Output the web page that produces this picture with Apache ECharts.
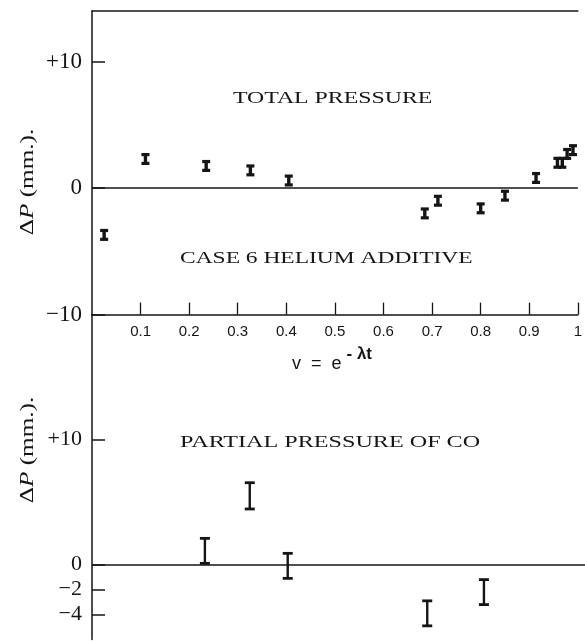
<!DOCTYPE html>
<html>
<head>
<meta charset="utf-8">
<script src="https://cdn.jsdelivr.net/npm/echarts@6/dist/echarts.min.js"></script>
<style>
html,body{margin:0;padding:0;background:#fff;}
#c{width:585px;height:641px;}
</style>
</head>
<body>
<div id="c"></div>
<script>
// Top panel: total pressure (case 6, helium additive)
var totalX   = [0.025, 0.11, 0.235, 0.326, 0.405, 0.685, 0.712, 0.80, 0.85, 0.914, 0.958, 0.968, 0.978, 0.99];
var totalY   = [-3.7, 2.3, 1.75, 1.4, 0.6, -2.0, -1.0, -1.6, -0.6, 0.8, 2.0, 2.0, 2.7, 3.0];
var totalErr = [0.35, 0.35, 0.35, 0.35, 0.35, 0.35, 0.35, 0.35, 0.35, 0.35, 0.35, 0.35, 0.35, 0.35];
// Bottom panel: partial pressure of CO
var coX   = [0.229, 0.32, 0.397, 0.68, 0.795];
var coY   = [1.1, 5.5, -0.1, -3.9, -2.2];
var coErr = [1.0, 1.05, 1.0, 1.0, 1.0];
// Tick values
var topYTicks = [-10, 0, 10];
var botYTicks = [-4, -2, 0, 10];
var xTickStep = 0.1;

var INK = '#151515';

function yFmt(v){ return v > 0 ? '+' + v : (v < 0 ? '\u2212' + Math.abs(v) : '0'); }
function xFmt(v){ if (v === 0) return ''; if (Math.abs(v - 1) < 1e-9) return '1'; return v.toFixed(1); }

function errItem(lw, capW, capLw){
  return function(params, api){
    var x = api.value(0), y = api.value(1), e = api.value(2);
    var top = api.coord([x, y + e]);
    var bot = api.coord([x, y - e]);
    var st = {stroke: INK, lineWidth: lw, fill: null};
    var cs = {stroke: INK, lineWidth: capLw, fill: null};
    return {type:'group', children:[
      {type:'line', shape:{x1:top[0], y1:top[1], x2:bot[0], y2:bot[1]}, style:st},
      {type:'line', shape:{x1:top[0]-capW/2, y1:top[1], x2:top[0]+capW/2, y2:top[1]}, style:cs},
      {type:'line', shape:{x1:bot[0]-capW/2, y1:bot[1], x2:bot[0]+capW/2, y2:bot[1]}, style:cs}
    ]};
  };
}

function zip3(a,b,c){ return a.map(function(v,i){ return [v, b[i], c[i]]; }); }

var zeroLine = {
  silent: true, symbol: ['none','none'], animation: false,
  label: {show: false},
  lineStyle: {color: INK, width: 1.5, type: 'solid'},
  data: [{yAxis: 0}]
};

var serif = 'Liberation Serif, Times New Roman, serif';
var chart = echarts.init(document.getElementById('c'), null, {renderer:'canvas'});
chart.setOption({
  animation: false,
  backgroundColor: '#fff',
  grid: [
    {left: 92, top: 11, width: 495, height: 303.6},
    {left: 92, top: 314.6, width: 495, height: 325}
  ],
  xAxis: [
    {gridIndex:0, type:'value', min:0, max:1, interval:xTickStep, position:'bottom',
     axisLine:{show:true, onZero:false, lineStyle:{color:INK, width:1.5}},
     axisTick:{show:true, inside:true, length:12, lineStyle:{color:INK, width:1.3}},
     axisLabel:{show:true, formatter:xFmt, color:INK, fontFamily:'Liberation Sans, Arial, sans-serif', fontSize:15, margin:10, showMinLabel:false},
     splitLine:{show:false}},
    {gridIndex:0, type:'value', min:0, max:1, position:'top',
     axisLine:{show:true, onZero:false, lineStyle:{color:INK, width:1.5}},
     axisTick:{show:false}, axisLabel:{show:false}, splitLine:{show:false}},
    {gridIndex:1, type:'value', min:0, max:1, show:false, splitLine:{show:false}}
  ],
  yAxis: [
    {gridIndex:0, type:'value', min:-10, max:14,
     axisLine:{show:true, onZero:false, lineStyle:{color:INK, width:1.5}},
     axisTick:{show:true, inside:true, length:13, customValues: topYTicks, lineStyle:{color:INK, width:1.5}},
     axisLabel:{show:true, customValues: topYTicks, formatter:yFmt, color:INK, fontFamily:serif, fontSize:23, margin:10},
     splitLine:{show:false}},
    {gridIndex:1, type:'value', min:-6, max:20,
     axisLine:{show:true, onZero:false, lineStyle:{color:INK, width:1.5}},
     axisTick:{show:true, inside:true, length:13, customValues: botYTicks, lineStyle:{color:INK, width:1.5}},
     axisLabel:{show:true, customValues: botYTicks, formatter:yFmt, color:INK, fontFamily:serif, fontSize:22, margin:10},
     splitLine:{show:false}}
  ],
  series: [
    {type:'custom', name:'Total pressure', xAxisIndex:0, yAxisIndex:0,
     renderItem: errItem(3.4, 8, 3.2), data: zip3(totalX, totalY, totalErr),
     encode:{x:0, y:1}, markLine: zeroLine, z:5},
    {type:'custom', name:'Partial pressure of CO', xAxisIndex:2, yAxisIndex:1,
     renderItem: errItem(2.4, 10, 2.8), data: zip3(coX, coY, coErr),
     encode:{x:0, y:1}, markLine: zeroLine, z:5}
  ],
  graphic: [
    {type:'text', x:233, y:99, scaleX:1.4, style:{text:'TOTAL PRESSURE', font:'17px ' + serif, fill:INK, verticalAlign:'middle', align:'left'}},
    {type:'text', x:180, y:259, scaleX:1.38, style:{text:'CASE 6 HELIUM ADDITIVE', font:'17px ' + serif, fill:INK, verticalAlign:'middle', align:'left'}},
    {type:'text', x:180, y:443, scaleX:1.42, style:{text:'PARTIAL PRESSURE OF CO', font:'17px ' + serif, fill:INK, verticalAlign:'middle', align:'left'}},
    {type:'text', x:28, y:182, rotation:Math.PI/2, scaleX:1.4, style:{
      text:'{n|\u0394}{i|P}{n| (mm.).}', align:'center', verticalAlign:'middle',
      rich:{n:{font:'18px ' + serif, fill:INK}, i:{font:'italic 18px ' + serif, fill:INK}}}},
    {type:'text', x:28, y:450, rotation:Math.PI/2, scaleX:1.4, style:{
      text:'{n|\u0394}{i|P}{n| (mm.).}', align:'center', verticalAlign:'middle',
      rich:{n:{font:'18px ' + serif, fill:INK}, i:{font:'italic 18px ' + serif, fill:INK}}}},
    {type:'text', x:292, y:358, style:{
      text:'{a|v  =  e}{s|- \u03bbt}', align:'left', verticalAlign:'middle',
      rich:{a:{font:'18px Liberation Sans, Arial, sans-serif', fill:INK, padding:[12,0,0,0]},
            s:{font:'bold 17px Liberation Sans, Arial, sans-serif', fill:INK, padding:[0,0,8,5]}}}}
  ]
});
</script>
</body>
</html>
